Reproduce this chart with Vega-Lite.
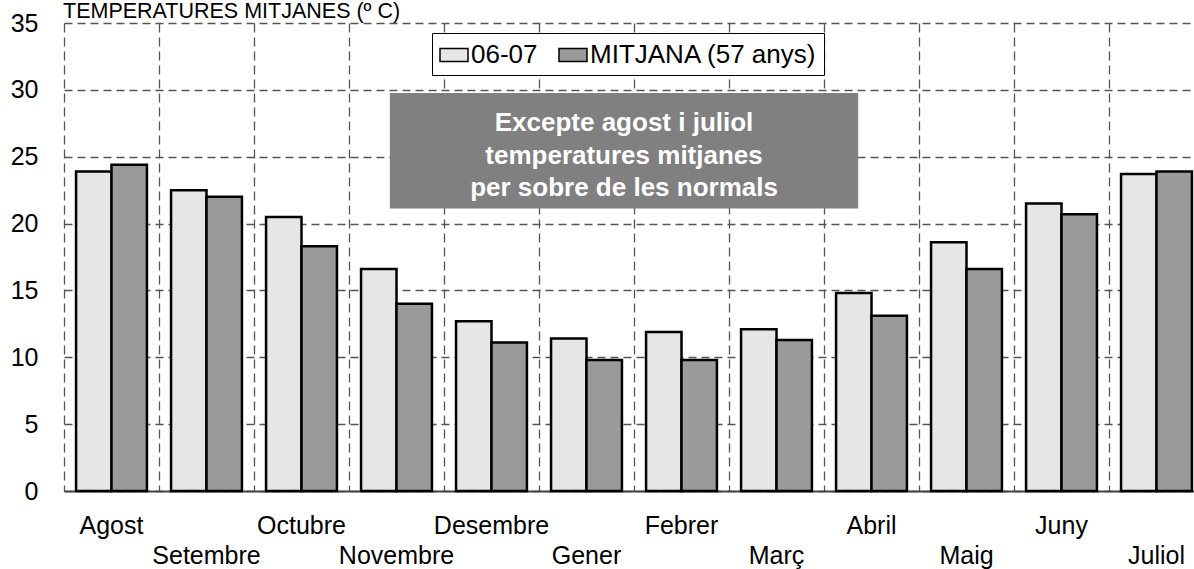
{
  "$schema": "https://vega.github.io/schema/vega-lite/v6.json",
  "autosize": {"type": "none"},
  "width": 1130,
  "height": 468,
  "padding": {"left": 64, "top": 23, "right": 0, "bottom": 78},
  "background": "white",
  "title": {"text": "TEMPERATURES MITJANES (º C)", "anchor": "start", "frame": "group", "font": "Liberation Sans", "fontSize": 21.5, "fontWeight": "normal", "color": "black", "baseline": "alphabetic", "offset": -28, "dx": -1},
  "config": {"view": {"stroke": null}, "font": "Liberation Sans"},
  "resolve": {"scale": {"x": "independent"}},
  "layer": [
    {
      "data": {"values": [
        {"month": "Agost", "series": "06-07", "value": 23.9},
        {"month": "Agost", "series": "MITJANA (57 anys)", "value": 24.4},
        {"month": "Setembre", "series": "06-07", "value": 22.5},
        {"month": "Setembre", "series": "MITJANA (57 anys)", "value": 22.0},
        {"month": "Octubre", "series": "06-07", "value": 20.5},
        {"month": "Octubre", "series": "MITJANA (57 anys)", "value": 18.3},
        {"month": "Novembre", "series": "06-07", "value": 16.6},
        {"month": "Novembre", "series": "MITJANA (57 anys)", "value": 14.0},
        {"month": "Desembre", "series": "06-07", "value": 12.7},
        {"month": "Desembre", "series": "MITJANA (57 anys)", "value": 11.1},
        {"month": "Gener", "series": "06-07", "value": 11.4},
        {"month": "Gener", "series": "MITJANA (57 anys)", "value": 9.8},
        {"month": "Febrer", "series": "06-07", "value": 11.9},
        {"month": "Febrer", "series": "MITJANA (57 anys)", "value": 9.8},
        {"month": "Març", "series": "06-07", "value": 12.1},
        {"month": "Març", "series": "MITJANA (57 anys)", "value": 11.3},
        {"month": "Abril", "series": "06-07", "value": 14.8},
        {"month": "Abril", "series": "MITJANA (57 anys)", "value": 13.1},
        {"month": "Maig", "series": "06-07", "value": 18.6},
        {"month": "Maig", "series": "MITJANA (57 anys)", "value": 16.6},
        {"month": "Juny", "series": "06-07", "value": 21.5},
        {"month": "Juny", "series": "MITJANA (57 anys)", "value": 20.7},
        {"month": "Juliol", "series": "06-07", "value": 23.7},
        {"month": "Juliol", "series": "MITJANA (57 anys)", "value": 23.9}
      ]},
      "mark": {"type": "bar", "stroke": "black", "strokeWidth": 2.5, "strokeJoin": "miter"},
      "encoding": {
        "x": {
          "field": "month", "type": "nominal",
          "sort": ["Agost", "Setembre", "Octubre", "Novembre", "Desembre", "Gener", "Febrer", "Març", "Abril", "Maig", "Juny", "Juliol"],
          "scale": {"range": [0, 1140], "paddingInner": 0, "paddingOuter": 0},
          "axis": {
            "title": null, "orient": "bottom", "bandPosition": 0,
            "grid": true, "gridDash": [9, 5], "gridColor": "#555555", "gridWidth": 1.3,
            "ticks": false, "domain": true, "domainColor": "#444444", "domainWidth": 2,
            "labelPadding": 22, "labelBaseline": "top", "labelLineHeight": 30.5,
            "labelFontSize": 25, "labelFont": "Liberation Sans", "labelColor": "black", "labelAngle": 0,
            "labelOverlap": false, "labelBound": false, "labelFlush": false, "labelLimit": 300,
            "labelExpr": "(datum.value == 'Setembre' || datum.value == 'Novembre' || datum.value == 'Gener' || datum.value == 'Març' || datum.value == 'Maig' || datum.value == 'Juliol') ? ['', datum.value] : datum.value"
          }
        },
        "xOffset": {"field": "series", "type": "nominal", "sort": ["06-07", "MITJANA (57 anys)"], "scale": {"paddingOuter": 0.34, "paddingInner": 0}},
        "y": {
          "field": "value", "type": "quantitative",
          "scale": {"domain": [0, 35], "nice": false},
          "axis": {
            "title": null, "values": [0, 5, 10, 15, 20, 25, 30, 35],
            "grid": true, "gridDash": [8, 5], "gridColor": "#555555", "gridWidth": 1.3,
            "ticks": false, "domain": false, "labelPadding": 26,
            "labelFontSize": 25, "labelFont": "Liberation Sans", "labelColor": "black"
          }
        },
        "color": {
          "field": "series", "type": "nominal",
          "scale": {"domain": ["06-07", "MITJANA (57 anys)"], "range": ["#e6e6e6", "#9a9a9a"]},
          "legend": {
            "title": null, "orient": "none", "legendX": 368, "legendY": 10, "direction": "horizontal",
            "fillColor": "white", "strokeColor": "black", "padding": 7,
            "labelFontSize": 26, "labelFont": "Liberation Sans", "labelColor": "black", "labelLimit": 400,
            "symbolType": "M-1,-0.46H1V0.46H-1Z", "symbolSize": 784, "symbolStrokeColor": "black", "symbolStrokeWidth": 1.5, "symbolOpacity": 1,
            "labelOffset": 2, "columnPadding": 18
          }
        }
      }
    },
    {
      "data": {"values": [{"x1": 3.43, "x2": 8.36, "y1": 29.76, "y2": 21.13}]},
      "mark": {"type": "rect", "color": "#808080"},
      "encoding": {
        "x": {"field": "x1", "type": "quantitative", "scale": {"domain": [0, 12], "range": [0, 1140]}, "axis": null},
        "x2": {"field": "x2"},
        "y": {"field": "y1", "type": "quantitative"},
        "y2": {"field": "y2"}
      }
    },
    {
      "data": {"values": [{"x": 5.895, "y": 27.49, "t": "Excepte agost i juliol\ntemperatures mitjanes\nper sobre de les normals"}]},
      "mark": {"type": "text", "color": "white", "fontWeight": "bold", "fontSize": 26, "lineBreak": "\n", "lineHeight": 32.5, "align": "center", "baseline": "middle", "font": "Liberation Sans"},
      "encoding": {
        "x": {"field": "x", "type": "quantitative", "scale": {"domain": [0, 12], "range": [0, 1140]}, "axis": null},
        "y": {"field": "y", "type": "quantitative"},
        "text": {"field": "t"}
      }
    }
  ]
}
